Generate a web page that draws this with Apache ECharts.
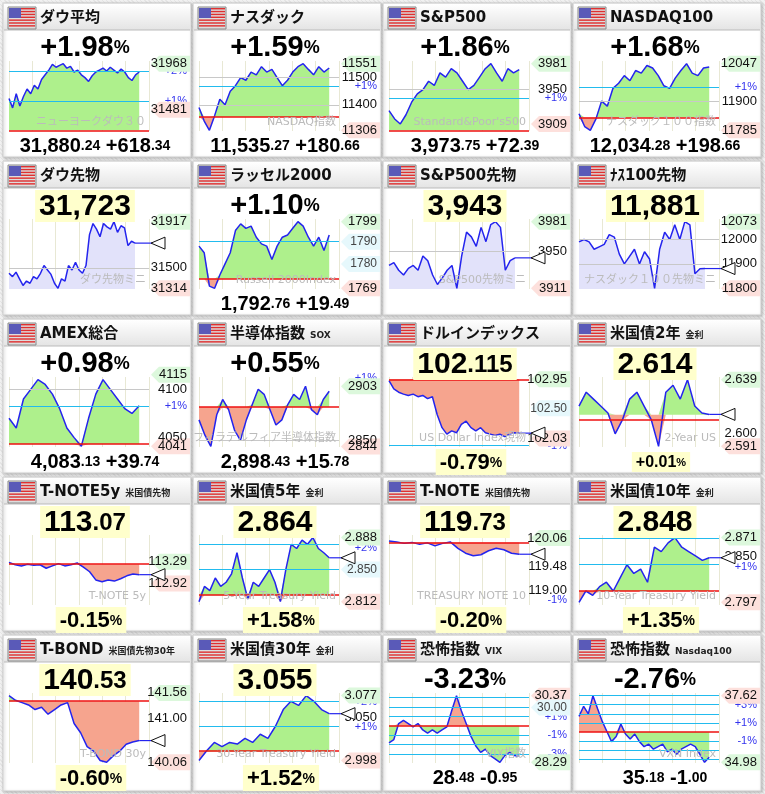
<!DOCTYPE html>
<html><head><meta charset="utf-8">
<script src="https://cdn.jsdelivr.net/npm/echarts@6/dist/echarts.min.js"></script>
<style>
html,body{margin:0;padding:0;width:765px;height:794px;overflow:hidden;
background:repeating-linear-gradient(45deg,#e6e6e6 0,#e6e6e6 1px,#f2f2f2 1px,#f2f2f2 3px);}
#c{width:765px;height:794px;}
</style></head><body><div id="c"></div>
<script>
// ---- data ----
const dDow=[31600,31500,31650,31520,31620,31700,31650,31740,31700,31800,31850,31900,31960,31930,31950,31968,31920,31940,31880,31900,31850,31820,31780,31840,31880,31900,31920,31890,31930,31900,31870,31910,31880,31820,31790,31850,31880];
const dNasdaq=[11390,11340,11306,11360,11420,11400,11450,11470,11500,11490,11520,11510,11540,11520,11530,11500,11470,11490,11520,11540,11551,11530,11510,11540,11520,11535];
const dSP=[3925,3915,3909,3920,3935,3945,3950,3960,3955,3970,3965,3975,3970,3960,3950,3955,3965,3975,3981,3970,3960,3975,3970,3974];
const dNdx=[11850,11800,11785,11830,11900,11880,11950,11970,12000,11980,12020,12010,12040,12030,12000,11960,11950,11990,12020,12047,12010,12000,12030,12034];
const dDowF=[31450,31420,31460,31400,31340,31380,31360,31420,31400,31450,31520,31480,31440,31360,31314,31400,31380,31520,31480,31550,31480,31450,31520,31800,31900,31850,31780,31900,31870,31850,31917,31820,31880,31860,31700,31740,31723];
const dRussell=[1788,1785,1770,1769,1775,1780,1785,1795,1798,1796,1797,1792,1789,1788,1782,1788,1792,1793,1796,1799,1797,1792,1788,1792,1786,1793];
const dSPF=[3935,3938,3930,3925,3932,3935,3930,3945,3940,3925,3915,3922,3930,3935,3911,3945,3970,3965,3955,3975,3960,3978,3981,3975,3930,3940,3943];
const dNdxF=[11990,12000,11990,11960,11970,11980,12020,12010,11940,11900,11930,11960,11900,11950,11920,11800,11960,12030,12000,12060,12000,12073,12060,11860,11880,11881];
const dAmex=[4070,4060,4090,4100,4110,4105,4095,4080,4060,4050,4041,4070,4095,4110,4100,4090,4080,4075,4083];
const dSox=[2870,2855,2844,2875,2890,2880,2860,2850,2870,2885,2900,2895,2880,2865,2870,2885,2895,2890,2903,2880,2875,2890,2898];
const dDxy=[102.93,102.8,102.75,102.72,102.7,102.72,102.68,102.7,102.65,102.68,102.4,102.2,102.1,102.15,102.12,102.25,102.3,102.2,102.15,102.2,102.12,102.1,102.08,102.1,102.06,102.1,102.12,102.115];
const dUs2=[2.62,2.63,2.625,2.62,2.615,2.60,2.61,2.625,2.63,2.62,2.61,2.591,2.63,2.635,2.625,2.639,2.62,2.615,2.614];
const dTn5=[113.28,113.24,113.22,113.25,113.23,113.24,113.18,113.22,113.26,113.22,113.24,113.27,113.2,113.12,112.98,112.95,112.98,112.96,113.0,113.05,113.08,113.07];
const dUs5=[2.812,2.83,2.825,2.84,2.83,2.835,2.845,2.87,2.84,2.815,2.835,2.83,2.84,2.85,2.835,2.812,2.85,2.88,2.875,2.885,2.88,2.888,2.875,2.87,2.864];
const dTn10=[120.0,119.98,119.95,119.97,119.93,119.96,119.9,119.95,119.98,119.85,119.75,119.7,119.72,119.8,119.85,119.82,119.75,119.73];
const dUs10=[2.797,2.81,2.805,2.815,2.82,2.81,2.825,2.84,2.83,2.835,2.82,2.86,2.855,2.865,2.871,2.86,2.855,2.85,2.845,2.848];
const dTb=[141.5,141.4,141.35,141.3,141.2,141.25,141.1,141.2,141.3,141.35,140.9,140.7,140.4,140.3,140.1,140.06,140.2,140.3,140.45,140.5,140.53];
const dUs30=[2.998,3.01,3.02,3.015,3.02,3.018,3.025,3.02,3.03,3.025,3.04,3.06,3.07,3.065,3.077,3.07,3.06,3.055];
const dVix=[28.9,29.0,29.5,29.6,29.5,29.4,29.5,29.3,29.2,29.3,29.2,29.3,29.4,29.9,30.37,29.9,29.5,29.1,28.8,28.6,28.7,28.5,28.4,28.29,28.5,28.6,28.5,28.48];
const dVxn=[36.8,37.2,36.9,37.62,37.1,36.6,36.2,35.8,36.0,36.5,36.1,35.9,36.1,35.8,35.6,35.7,35.5,35.6,35.7,35.4,35.5,35.3,35.5,35.6,35.7,35.6,35.3,34.98,35.18];

const G='#118811',R='#dd1111',K='#111';
const panels=[
 {t:'ダウ平均',d:dDow,base:31262,fill:'pm',big:[['+1.98',29],['%',18]],bc:G,bot:[['31,880',20,K],['.24',14,K],[' +618',20,G],['.34',14,G]],
  lines:[[31887,'c'],[31574,'c']],labs:[[31968,'31968','hi'],[31887,'+2%','p'],[31574,'+1%','p'],[31481,'31481','lo']],wm:'ニューヨークダウ３０'},
 {t:'ナスダック',d:dNasdaq,base:11354.6,fill:'pm',big:[['+1.59',29],['%',18]],bc:G,bot:[['11,535',20,K],['.27',14,K],[' +180',20,G],['.66',14,G]],
  lines:[[11500,'g'],[11468,'c'],[11400,'g']],labs:[[11551,'11551','hi'],[11500,'11500','m'],[11468,'+1%','p'],[11400,'11400','m'],[11306,'11306','lo']],wm:'NASDAQ指数'},
 {t:'S&P500',d:dSP,base:3901.4,fill:'pm',big:[['+1.86',29],['%',18]],bc:G,bot:[['3,973',20,K],['.75',14,K],[' +72',20,G],['.39',14,G]],
  lines:[[3950,'g'],[3940,'c']],labs:[[3981,'3981','hi'],[3950,'3950','m'],[3940,'+1%','p'],[3909,'3909','lo']],wm:"Standard&Poor's500"},
 {t:'NASDAQ100',d:dNdx,base:11835.6,fill:'pm',big:[['+1.68',29],['%',18]],bc:G,bot:[['12,034',20,K],['.28',14,K],[' +198',20,G],['.66',14,G]],
  lines:[[11954,'c'],[11900,'g']],labs:[[12047,'12047','hi'],[11954,'+1%','p'],[11900,'11900','m'],[11785,'11785','lo']],wm:'ナスダック１００指数'},
 {t:'ダウ先物',d:dDowF,fill:'lav',yb:true,big:[['31,723',30]],bc:K,arrow:true,
  lines:[[31500,'g']],labs:[[31917,'31917','hi'],[31500,'31500','m'],[31314,'31314','lo']],wm:'ダウ先物ミニ'},
 {t:'ラッセル2000',d:dRussell,base:1773.3,fill:'pm',big:[['+1.10',29],['%',18]],bc:G,bot:[['1,792',20,K],['.76',14,K],[' +19',20,G],['.49',14,G]],
  lines:[[1790,'c']],labs:[[1799,'1799','hi'],[1790,'1790','b'],[1780,'1780','b'],[1769,'1769','lo']],wm:'Russell 2000Index'},
 {t:'S&P500先物',d:dSPF,fill:'lav',yb:true,big:[['3,943',30]],bc:K,arrow:true,
  lines:[[3950,'g']],labs:[[3981,'3981','hi'],[3950,'3950','m'],[3911,'3911','lo']],wm:'S&P500先物ミニ'},
 {t:'ﾅｽ100先物',d:dNdxF,fill:'lav',yb:true,big:[['11,881',30]],bc:K,arrow:true,
  lines:[[12000,'g'],[11900,'g']],labs:[[12073,'12073','hi'],[12000,'12000','m'],[11900,'11900','m'],[11800,'11800','lo']],wm:'ナスダック１００先物ミニ'},
 {t:'AMEX総合',d:dAmex,base:4043.4,fill:'pm',big:[['+0.98',29],['%',18]],bc:G,bot:[['4,083',20,K],['.13',14,K],[' +39',20,G],['.74',14,G]],
  lines:[[4100,'g'],[4083,'c']],labs:[[4115,'4115','hi'],[4100,'4100','m'],[4083,'+1%','p'],[4050,'4050','m'],[4041,'4041','lo']],wm:''},
 {t:'半導体指数',sub:'SOX',d:dSox,base:2882.7,fill:'pm',big:[['+0.55',29],['%',18]],bc:G,bot:[['2,898',20,K],['.43',14,K],[' +15',20,G],['.78',14,G]],
  lines:[[2850,'g']],labs:[[2911,'+1%','p'],[2903,'2903','hi'],[2850,'2850','m'],[2844,'2844','lo']],wm:'フィラデルフィア半導体指数',ymax:2912},
 {t:'ドルインデックス',d:dDxy,base:102.95,fill:'pm',yb:true,big:[['102',30],['.115',24]],bc:K,arrow:true,pct:[['-0.79',22,R],['%',14,R]],
  lines:[[101.92,'c']],labs:[[102.95,'102.95','hi'],[102.5,'102.50','b'],[102.03,'102.03','lo'],[101.92,'-1%','p']],wm:'US Dollar Index現物',ymin:101.9},
 {t:'米国債2年',sub:'金利',d:dUs2,base:2.6137,fill:'pm',yb:true,big:[['2.614',30]],bc:K,arrow:true,pct:[['+0.01',16,G],['%',11,G]],
  lines:[],labs:[[2.639,'2.639','hi'],[2.600,'2.600','m'],[2.591,'2.591','lo']],wm:'2-Year US'},
 {t:'T-NOTE5y',sub:'米国債先物',d:dTn5,base:113.25,fill:'pm',yb:true,big:[['113',30],['.07',24]],bc:K,arrow:true,pct:[['-0.15',22,R],['%',14,R]],
  lines:[],labs:[[113.29,'113.29','hi'],[112.92,'112.92','lo']],wm:'T-NOTE 5y',ymin:112.55,ymax:113.75},
 {t:'米国債5年',sub:'金利',d:dUs5,base:2.8195,fill:'pm',yb:true,big:[['2.864',30]],bc:K,arrow:true,pct:[['+1.58',22,G],['%',14,G]],
  lines:[[2.876,'c'],[2.848,'c']],labs:[[2.888,'2.888','hi'],[2.876,'+2%','p'],[2.850,'2.850','b'],[2.812,'2.812','lo']],wm:'5-Year Treasury Yield',ymin:2.808},
 {t:'T-NOTE',sub:'米国債先物',d:dTn10,base:119.97,fill:'pm',yb:true,big:[['119',30],['.73',24]],bc:K,arrow:true,pct:[['-0.20',22,R],['%',14,R]],
  lines:[],labs:[[120.06,'120.06','hi'],[119.48,'119.48','m'],[119.0,'119.00','m'],[118.8,'-1%','p']],wm:'TREASURY NOTE 10',ymin:118.7,ymax:120.12},
 {t:'米国債10年',sub:'金利',d:dUs10,base:2.81,fill:'pm',yb:true,big:[['2.848',30]],bc:K,arrow:true,pct:[['+1.35',22,G],['%',14,G]],
  lines:[[2.866,'c'],[2.838,'c']],labs:[[2.871,'2.871','hi'],[2.850,'2.850','m'],[2.838,'+1%','p'],[2.797,'2.797','lo']],wm:'10-Year Treasury Yield',ymin:2.794},
 {t:'T-BOND',sub:'米国債先物30年',d:dTb,base:141.38,fill:'pm',yb:true,big:[['140',30],['.53',24]],bc:K,arrow:true,pct:[['-0.60',22,R],['%',14,R]],
  lines:[],labs:[[141.56,'141.56','hi'],[141.0,'141.00','m'],[140.06,'140.06','lo']],wm:'T-BOND 30y'},
 {t:'米国債30年',sub:'金利',d:dUs30,base:3.009,fill:'pm',yb:true,big:[['3.055',30]],bc:K,arrow:true,pct:[['+1.52',22,G],['%',14,G]],
  lines:[[3.069,'c'],[3.039,'c']],labs:[[3.077,'3.077','hi'],[3.069,'+2%','p'],[3.050,'3.050','m'],[3.039,'+1%','p'],[2.998,'2.998','lo']],wm:'30-Year Treasury Yield',ymin:2.995},
 {t:'恐怖指数',sub:'VIX',d:dVix,base:29.43,fill:'pm',inv:true,big:[['-3.23',29],['%',18]],bc:G,bot:[['28',20,K],['.48',14,K],[' -0',20,G],['.95',14,G]],
  lines:[[30.31,'c'],[30.02,'c'],[29.72,'c'],[29.14,'c'],[28.84,'c'],[28.55,'c'],[28.25,'c']],labs:[[30.37,'30.37','loR'],[30.0,'30.00','b'],[29.72,'+1%','p'],[29.14,'-1%','p'],[28.55,'-3%','p'],[28.29,'28.29','hiG']],wm:'VIX指数'},
 {t:'恐怖指数',sub:'Nasdaq100',d:dVxn,base:36.18,fill:'pm',inv:true,big:[['-2.76',29],['%',18]],bc:G,bot:[['35',20,K],['.18',14,K],[' -1',20,G],['.00',14,G]],
  lines:[[37.63,'c'],[37.27,'c'],[36.9,'c'],[36.54,'c'],[35.82,'c'],[35.46,'c'],[35.09,'c']],labs:[[37.62,'37.62','loR'],[37.27,'+3%','p'],[36.54,'+1%','p'],[35.82,'-1%','p'],[34.98,'34.98','hiG']],wm:'VXN Index'}
];

const FONT='"DejaVu Sans","Noto Sans CJK JP",sans-serif';
const NFONT='"Liberation Sans",Arial,sans-serif';
const chart=echarts.init(document.getElementById('c'),null,{renderer:'canvas'});
const grids=[],xA=[],yA=[],series=[];
panels.forEach((p,i)=>{
  const c=i%4,r=Math.floor(i/4),px=3+190*c,py=3+158*r;
  p.px=px;p.py=py;
  grids.push({left:px+6,top:py+58,width:140,height:70});
  const N=p.d.length,xmax=(N-1)/(p.fill==='lav'?0.9:0.93);
  xA.push({type:'value',gridIndex:i,min:0,max:xmax,interval:xmax/6,axisLine:{show:false},axisTick:{show:false},axisLabel:{show:false},
    splitLine:{show:true,lineStyle:{color:'#e8e8d4'}}});
  const lo=Math.min(...p.d),hi=Math.max(...p.d);
  let mn=Math.min(lo,p.base??lo),mx=Math.max(hi,p.base??hi);
  const rg=mx-mn;
  mn=p.ymin??(mn-rg*0.01);mx=p.ymax??(mx+rg*0.04);
  yA.push({type:'value',gridIndex:i,min:mn,max:mx,show:false,splitLine:{show:false},scale:true});
  const xy=a=>a.map((v,k)=>[k,v]);
  if(p.fill==='pm'){
    const up=p.inv?'#f6a48e':'#aef08c',dn=p.inv?'#aef08c':'#f6a48e';
    const b=p.base,d=p.d;
    series.push({type:'custom',xAxisIndex:i,yAxisIndex:i,silent:true,z:1,data:[[0,b]],clip:true,
      renderItem:(params,api)=>{
        const last=d.length-1;
        const upPts=d.map((v,k)=>api.coord([k,Math.max(v,b)]));
        upPts.push(api.coord([last,b]),api.coord([0,b]));
        const dnPts=d.map((v,k)=>api.coord([k,Math.min(v,b)]));
        dnPts.push(api.coord([last,b]),api.coord([0,b]));
        return {type:'group',children:[
          {type:'polygon',shape:{points:upPts},style:{fill:up}},
          {type:'polygon',shape:{points:dnPts},style:{fill:dn}}]};
      }});
  }
  const ml=p.lines.map(([v,t])=>({yAxis:v,lineStyle:{color:t==='c'?'#22bbee':'#c8c8c8',width:1.2,type:'solid'}}));
  if(p.fill==='pm') ml.push({yAxis:p.base,lineStyle:{color:'#ee1111',width:1.6,type:'solid'}});
  series.push({type:'line',xAxisIndex:i,yAxisIndex:i,symbol:'none',silent:true,data:xy(p.d),z:3,
    lineStyle:{color:'#2424ee',width:1.5},
    areaStyle:p.fill==='lav'?{color:'#e2e2fa',opacity:1,origin:'start'}:undefined,
    markLine:{symbol:'none',silent:true,label:{show:false},animation:false,data:ml}});
});
chart.setOption({animation:false,grid:grids,xAxis:xA,yAxis:yA,series:series});

function measure(t,f){const cv=document.createElement('canvas').getContext('2d');cv.font=f;return cv.measureText(t).width;}
const gr=[];
const rich=(parts,extra)=>{const r={};let s='';parts.forEach((q,k)=>{r['p'+k]={fontSize:q[1],fontWeight:'bold',color:q[2]||extra,fontFamily:NFONT};s+='{p'+k+'|'+q[0]+'}';});return {s,r};};
panels.forEach((p,i)=>{
  const {px,py}=p;
  gr.push({type:'rect',shape:{x:px,y:py,width:188,height:py>600?156:154},style:{fill:'#fff',stroke:'#cfcfcf',lineWidth:1,shadowBlur:3,shadowColor:'rgba(0,0,0,0.25)',shadowOffsetX:1,shadowOffsetY:1},z:-10});
  gr.push({type:'rect',shape:{x:px+1,y:py+1,width:186,height:26},style:{fill:new echarts.graphic.LinearGradient(0,0,0,1,[{offset:0,color:'#ffffff'},{offset:1,color:'#e4e4e4'}])},z:-9});
  gr.push({type:'line',shape:{x1:px+1,y1:py+27,x2:px+187,y2:py+27},style:{stroke:'#bbb'},z:-9});
  const fx=px+6,fy=py+5;
  gr.push({type:'rect',shape:{x:fx-1,y:fy-1,width:28,height:22},style:{fill:'#ddd',stroke:'#888'},z:-8});
  for(let k=0;k<7;k++) gr.push({type:'rect',shape:{x:fx,y:fy+k*20/7,width:26,height:20/14},style:{fill:'#e03030'},z:-7});
  gr.push({type:'rect',shape:{x:fx,y:fy,width:12,height:10},style:{fill:'#5a5ab8'},z:-6});
  gr.push({type:'text',x:px+37,y:py+15,style:{text:p.t,font:'bold 15px '+FONT,fill:'#111',verticalAlign:'middle'},z:50});
  if(p.sub){
    gr.push({type:'text',x:px+37+measure(p.t,'bold 15px '+FONT)+5,y:py+17,style:{text:p.sub,font:'bold 9px '+FONT,fill:'#222',verticalAlign:'middle'},z:50});
  }
  const b=rich(p.big,p.bc);
  gr.push({type:'text',x:px+82,y:py+45,style:{text:b.s,rich:b.r,align:'center',verticalAlign:'middle',
    backgroundColor:p.yb?'#ffffcc':null,padding:p.yb?[2,4,0,4]:0},z:50});
  if(p.bot){const q=rich(p.bot,K);gr.push({type:'text',x:px+92,y:py+143,style:{text:q.s,rich:q.r,align:'center',verticalAlign:'middle'},z:50});}
  if(p.pct){const q=rich(p.pct,K);gr.push({type:'text',x:px+88,y:py+143,style:{text:q.s,rich:q.r,align:'center',verticalAlign:'middle',backgroundColor:'#ffffcc',padding:[3,4,1,4]},z:50});}
  if(p.wm) gr.push({type:'text',x:px+143,y:py+119,style:{text:p.wm,font:'11px '+FONT,fill:'#bbbbbb',align:'right',verticalAlign:'middle'},z:40});
  const Y=v=>chart.convertToPixel({gridIndex:i},[0,v])[1];
  p.labs.forEach(([v,txt,k])=>{
    const y=Y(v);
    let bg=null;
    if(k==='hi'||k==='hiG') bg='#dcf8dc';
    if(k==='lo'||k==='loR') bg='#fde0dc';
    if(k==='b') bg='#e6f8fc';
    if(bg){gr.push({type:'polygon',shape:{points:[[px+148,y],[px+156,y-8],[px+187,y-8],[px+187,y+8],[px+156,y+8]]},style:{fill:bg},z:30});}
    const isP=k==='p';
    gr.push({type:'text',x:px+184,y:y,style:{text:txt,font:(isP?'11px ':(k==='b'?'12px ':'13px '))+NFONT,fill:isP?'#3333ee':(k==='b'?'#444':'#111'),align:'right',verticalAlign:'middle'},z:isP?29:31});
  });
  if(p.arrow){
    const last=p.d[p.d.length-1];const pt=chart.convertToPixel({gridIndex:i},[p.d.length-1,last]);
    gr.push({type:'line',shape:{x1:pt[0],y1:pt[1],x2:px+150,y2:pt[1]},style:{stroke:'#2424ee',lineWidth:1.2},z:32});
    gr.push({type:'polygon',shape:{points:[[px+148,pt[1]],[px+162,pt[1]-6],[px+162,pt[1]+6]]},style:{fill:'#fff',stroke:'#111',lineWidth:1},z:33});
  }
});
chart.setOption({graphic:{elements:gr}});
</script></body></html>
